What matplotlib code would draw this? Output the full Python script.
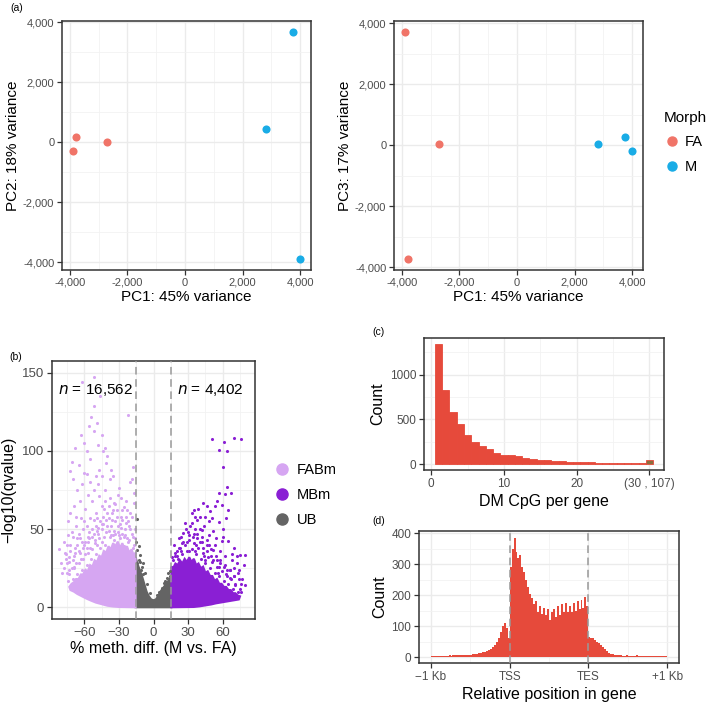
import numpy as np
import matplotlib
matplotlib.use("Agg")
import matplotlib.pyplot as plt
from matplotlib.lines import Line2D
from matplotlib.ticker import FixedLocator, FuncFormatter

plt.rcParams['font.family'] = ['Liberation Sans', 'DejaVu Sans']

# ---------------- data ----------------
# (a) PCA
pc1 = [-3880, -3790, -2710, 2800, 3750, 3985]
pc2 = [-310, 157, 13, 447, 3657, -3887]
pc3 = [3695, -3725, 23, 23, 253, -207]
morph = ['FA', 'FA', 'FA', 'M', 'M', 'M']
morph_levels = ['FA', 'M']
morph_colors = {'FA': '#F07468', 'M': '#19ACE6'}

# (b) volcano: dense cores (envelopes) + individually visible points
fab_core_x = [-15.5, -17, -19, -21, -23, -25, -27, -29, -31, -33, -35, -37, -39, -41, -43, -45, -47, -49, -51,
              -53, -55, -57, -59, -61, -63, -65, -67, -69, -71, -73,
              -72, -69, -66, -62, -58, -54, -50, -45, -40, -35, -30, -15.5]
fab_core_y = [35, 33, 37, 35, 39, 37, 41, 38, 42, 39, 41, 37, 39, 35, 36, 32, 33, 29, 30,
              26, 27, 23, 24, 21, 21, 18, 18, 16, 15, 13,
              11, 10, 8.5, 7, 5.5, 4.2, 3, 2, 1, 0.5, 0.2, 0]
mbm_core_x = [15.5, 17, 19, 21, 23, 25, 27, 29, 31, 33, 35, 37, 39, 41, 43, 45, 47, 49, 51, 53, 55, 57,
              59, 61, 63, 65, 67, 69, 71, 73, 75,
              74, 70, 66, 62, 58, 54, 50, 45, 40, 35, 15.5]
mbm_core_y = [26, 25, 28, 27, 30, 28, 31, 29, 32, 29, 31, 27, 28, 25, 26, 22, 23, 20, 20, 17, 18, 15,
              15, 13, 13, 11, 11, 9, 9, 7.5, 7,
              5, 4.5, 4, 3.5, 3, 2.5, 1.8, 1.2, 0.6, 0.2, 0]
ub_core_x = [-15.5, -14, -12, -10, -8, -6, -4, -2, 0, 2, 4, 6, 8, 10, 12, 14, 15.5, 15.5, -15.5]
ub_core_y = [32, 28, 24, 20, 15, 10, 7, 5, 4.5, 5, 7, 10, 12, 14, 16, 18, 20, 0, 0]

fab_x = [-52, -62, -46, -52, -22, -49, -56, -52, -45, -48, -42, -68, -58, -44, -40, -71, -65, -72, -60, -58,
         -50, -45, -35, -38, -55, -48, -20, -18, -70, -62, -66, -52, -42, -30, -17, -57, -47, -38, -64, -53,
         -34, -17, -69, -45, -59, -26, -72, -50, -40, -32, -63, -55, -74, -46, -67, -58, -36, -78, -82, -75,
         -70, -65, -77, -73, -68, -62, -19, -28, -22, -16, -18, -43, -49, -56, -61, -66, -72, -75, -78, -73,
         -70, -64, -59, -53, -45, -39, -33, -27, -24, -20, -37, -41, -55, -60, -63, -54, -47, -67, -50, -57,
         -76, -69, -80, -62, -67, -71, -79, -28, -31, -24,
         -17, -19, -21, -23, -25, -27, -29, -31, -33, -35, -37, -39, -41, -43, -45, -47, -49, -51, -53, -55,
         -57, -59, -61, -63, -65, -67, -69, -71, -73, -75,
         -18, -22, -26, -30, -34, -38, -42, -46, -50, -54, -58, -62, -66, -70, -74,
         -20, -24, -28, -32, -36, -40, -44, -48, -52, -56, -60, -64, -68, -72, -76,
         -16, -19, -23, -27, -35, -42, -52, -60, -66, -74,
         -21, -25, -29, -33, -37, -41, -45, -49, -53, -57, -61, -65, -69, -73,
         -26, -31, -34, -39, -44, -48, -51, -58]
fab_y = [147, 144, 135, 129, 123, 118, 116, 113, 110, 104, 102, 102, 100, 100, 97, 93, 91, 87, 86, 85,
         84, 84, 84, 82, 80, 79, 80, 90, 82, 79, 75, 75, 75, 76, 73, 72, 71, 70, 68, 68,
         67, 67, 65, 65, 63, 64, 60, 60, 60, 62, 57, 57, 55, 55, 52, 52, 60, 42, 37, 40,
         45, 47, 35, 32, 38, 42, 82, 58, 55, 50, 45, 63, 57, 48, 50, 40, 36, 28, 25, 24,
         30, 35, 42, 50, 53, 65, 66, 62, 58, 60, 88, 92, 95, 105, 110, 122, 88, 58, 52, 45,
         31, 26, 28, 20, 18, 48, 22, 70, 72, 68,
         40, 47, 52, 44, 50, 47, 53, 48, 55, 46, 52, 49, 56, 45, 50, 44, 49, 41, 45, 38,
         42, 34, 38, 31, 36, 28, 33, 25, 29, 22,
         38, 42, 45, 46, 43, 45, 40, 38, 34, 31, 27, 24, 21, 18, 17,
         50, 54, 51, 58, 56, 52, 58, 51, 47, 44, 40, 44, 35, 40, 34,
         44, 58, 62, 56, 62, 68, 56, 55, 44, 46,
         43, 46, 44, 47, 46, 48, 42, 40, 37, 35, 31, 28, 25, 21,
         39, 52, 49, 57, 53, 47, 43, 38]

mbm_x = [50.5, 61.3, 69.4, 75.7, 56.4, 63.6, 60.1, 63.6, 56.4, 62.2, 67.6, 53.5, 46.3, 59.3, 40.5, 34.7, 49.1,
         56.4, 41.9, 52, 26, 33.2, 37.6, 46.3, 59.3, 65, 75.1, 79.5, 78.6, 72.3, 66.5, 75.7, 69.4, 57.8, 52,
         44.8, 66.5, 24.6, 27.5, 18.8, 15.9, 30.4, 36, 38, 44, 48, 31, 29, 22, 35, 40, 43, 48, 54, 58, 62, 68,
         70, 73, 61, 55, 50, 46, 42, 36, 33, 39, 45, 51, 43, 37, 24, 20, 56, 64, 71, 74, 60, 63, 65, 55, 70,
         17, 19, 21, 23, 25, 27, 29, 31, 33, 35, 37, 39, 41, 43, 45, 47, 49, 51, 53, 55, 57, 59, 61, 63, 65,
         67, 69, 71, 73, 75,
         18, 22, 26, 30, 34, 38, 42, 46, 50, 54, 58, 62, 66, 70, 74, 77, 79, 76,
         28, 32, 40, 48, 53, 60, 68, 72, 20, 24, 36, 44, 52, 57, 64]
mbm_y = [107.5, 105.7, 108.3, 107.4, 100.6, 99.8, 90, 76.6, 73, 72.3, 73, 64.5, 64.5, 65.5, 58, 62.3, 61.3,
         54.3, 49.6, 48.5, 47.4, 53.8, 44.3, 43.2, 42.1, 42.1, 33.2, 33.2, 27, 28.3, 24, 15, 19.8, 28.3, 36.8,
         30.4, 18.7, 41, 53.8, 32.5, 32, 35.7, 50, 56, 52, 55, 46, 42, 38, 47, 42, 38, 40, 44, 36, 33, 30,
         25, 22, 26, 30, 33, 36, 45, 58, 60, 63, 58, 57, 67, 40, 45, 36, 22, 20, 14, 18, 50, 57, 62, 68, 38,
         30, 35, 31, 38, 34, 40, 36, 43, 37, 41, 34, 38, 31, 35, 28, 32, 25, 29, 22, 26, 20, 23, 17, 21, 15,
         18, 12, 15, 10, 12,
         40, 44, 42, 48, 45, 47, 42, 40, 37, 33, 30, 27, 24, 20, 24, 18, 14, 10,
         50, 52, 50, 46, 40, 45, 34, 33, 33, 36, 36, 33, 30, 26, 24]

ub_x = [-14.5, -14.5, -13, -10, -7.2, -14.5, -8.7, 8.7, 11.6, 14.5, 7.2, -13, -12.1, -11, -6, 5, 13, -3, 3,
        -15, -12, -9, 10, 14]
ub_y = [56.4, 36.8, 30.4, 26, 22, 28, 28.3, 15.5, 18.7, 19.8, 12.3, 39, 33.6, 24, 15, 10, 22, 9, 8,
        42, 29, 21, 17, 23]

meth_cut = 15
n_fab = "16,562"
n_mbm = "4,402"
vol_colors = {'FABm': '#D6A6F2', 'MBm': '#8A1FD4', 'UB': '#646464'}

# (c) DM CpG per gene (last bin = 30..107 overflow)
cpg_bins = list(range(1, 31))
cpg_counts = [1344, 826, 585, 444, 322, 241, 204, 167, 122, 96, 96, 93, 70, 56, 41, 44, 33, 33, 26, 22,
              19, 19, 15, 12, 15, 15, 11, 7, 7, 41]
cpg_ticks = [0, 10, 20, 30]
cpg_ticklabels = ['0', '10', '20', '(30 , 107)']

# (d) relative position in gene (-1 Kb .. TSS .. TES .. +1 Kb), 120 bins
pos_counts = [2, 3, 2, 3, 3, 4, 3, 4, 4, 5, 4, 5, 5, 6, 5, 6, 7, 6, 7, 8,
              8, 9, 10, 11, 12, 14, 15, 17, 20, 23,
              27, 32, 40, 50, 62, 80, 100, 110, 95, 60,
              290, 350, 385, 340, 320, 330, 290, 275, 250, 225, 205, 190, 170, 180, 145, 165, 140, 160, 135, 155,
              120, 145, 155, 130, 165, 135, 170, 145, 175, 145, 165, 145, 175, 150, 180, 155, 185, 160, 195, 165,
              65, 62, 60, 55, 50, 45, 38, 32, 25, 20, 14, 10, 9, 7, 6, 5,
              5, 4, 4, 5, 4, 3, 4, 3, 5, 4, 3, 3, 4, 3, 2, 3, 3, 2, 3, 2, 2, 3, 2, 2]
pos_ticks = [-1, 0, 1, 2]
pos_ticklabels = ['\u22121 Kb', 'TSS', 'TES', '+1 Kb']

hist_color = '#E64A3B'
overflow_color = '#8C6E3E'

# ---------------- style helpers ----------------
W, H = 709, 706
fig = plt.figure(figsize=(W / 100, H / 100), dpi=100)


def add_ax(x0, y0, x1, y1):
    return fig.add_axes([x0 / W, 1 - y1 / H, (x1 - x0) / W, (y1 - y0) / H])


def bw(ax, xmaj, xmin, ymaj, ymin, tsize=8):
    ax.set_facecolor('white')
    ax.xaxis.set_major_locator(FixedLocator(xmaj))
    ax.xaxis.set_minor_locator(FixedLocator(xmin))
    ax.yaxis.set_major_locator(FixedLocator(ymaj))
    ax.yaxis.set_minor_locator(FixedLocator(ymin))
    ax.grid(True, which='major', color='#EBEBEB', lw=1.0, zorder=0)
    ax.grid(True, which='minor', color='#F2F2F2', lw=0.6, zorder=0)
    ax.set_axisbelow(True)
    for s in ax.spines.values():
        s.set_color('#333333')
        s.set_linewidth(1.1)
    ax.tick_params(which='major', direction='out', length=3.5, width=0.9, color='#333333',
                   labelcolor='#4D4D4D', labelsize=tsize, pad=2)
    ax.tick_params(which='minor', length=0)


comma = FuncFormatter(lambda v, p: f"{int(v):,}")

# ---------------- (a) PCA ----------------
for (x0, x1), ydata, ylab in [((62, 311), pc2, 'PC2: 18% variance'), ((394, 643), pc3, 'PC3: 17% variance')]:
    ax = add_ax(x0, 21, x1, 270)
    for lev in morph_levels:
        xs = [a for a, m in zip(pc1, morph) if m == lev]
        ys = [b for b, m in zip(ydata, morph) if m == lev]
        ax.scatter(xs, ys, s=34, color=morph_colors[lev], zorder=3, linewidths=0)
    ax.margins(0.05)
    bw(ax, [-4000, -2000, 0, 2000, 4000], [-3000, -1000, 1000, 3000],
       [-4000, -2000, 0, 2000, 4000], [-3000, -1000, 1000, 3000], tsize=8)
    ax.xaxis.set_major_formatter(comma)
    ax.yaxis.set_major_formatter(comma)
    ax.set_xlabel('PC1: 45% variance', fontsize=11, labelpad=2)
    ax.set_ylabel(ylab, fontsize=11, labelpad=2)

handles = [Line2D([], [], marker='o', ls='', color=morph_colors[l], markersize=6.5) for l in morph_levels]
fig.legend(handles, morph_levels, title='Morph', loc='upper left', bbox_to_anchor=(656 / W, 1 - 104 / H),
           frameon=False, fontsize=10.5, title_fontsize=11, handletextpad=0.3, labelspacing=0.7,
           handlelength=1.2, alignment='left', borderpad=0)

# ---------------- (b) volcano ----------------
axb = add_ax(52, 361, 255, 619)
axb.fill(ub_core_x, ub_core_y, color=vol_colors['UB'], lw=1.5, zorder=2)
axb.fill(fab_core_x, fab_core_y, color=vol_colors['FABm'], lw=1.5, zorder=2)
axb.fill(mbm_core_x, mbm_core_y, color=vol_colors['MBm'], lw=1.5, zorder=2)
axb.scatter(fab_x, fab_y, s=5, color=vol_colors['FABm'], linewidths=0, zorder=3)
axb.scatter(mbm_x, mbm_y, s=5, color=vol_colors['MBm'], linewidths=0, zorder=3)
axb.scatter(ub_x, ub_y, s=5, color=vol_colors['UB'], linewidths=0, zorder=3)
for c in (-meth_cut, meth_cut):
    axb.axvline(c, color='#999999', lw=1.1, ls=(0, (5, 3)), zorder=4)
axb.set_xlim(-88, 88)
axb.set_ylim(-7.5, 157.5)
bw(axb, [-60, -30, 0, 30, 60], [-75, -45, -15, 15, 45, 75], [0, 50, 100, 150], [25, 75, 125], tsize=9.5)
axb.text(-50, 139, r'$n$ = ' + n_fab, fontsize=11, ha='center', va='center', zorder=5)
axb.text(49, 139, r'$n$ = ' + n_mbm, fontsize=11, ha='center', va='center', zorder=5)
axb.set_xlabel('% meth. diff. (M vs. FA)', fontsize=11.5, labelpad=2)
axb.set_ylabel('\u2212log10(qvalue)', fontsize=11.5, labelpad=4)
vh = [Line2D([], [], marker='o', ls='', color=vol_colors[k], markersize=8) for k in ['FABm', 'MBm', 'UB']]
fig.legend(vh, ['FABm', 'MBm', 'UB'], loc='upper left', bbox_to_anchor=(266 / W, 1 - 456 / H), frameon=False,
           fontsize=10.5, handletextpad=0.4, labelspacing=0.75, handlelength=1.2, borderpad=0)

# ---------------- (c) histogram ----------------
axc = add_ax(424, 338, 664, 470)
bars = axc.bar(cpg_bins, cpg_counts, width=1, color=hist_color, edgecolor=hist_color, lw=0.6, zorder=3)
bars[-1].set_facecolor(overflow_color)
axc.set_xlim(-1, 32)
axc.set_ylim(-67, 1411)
bw(axc, cpg_ticks, [5, 15, 25], [0, 500, 1000], [250, 750, 1250], tsize=8.5)
axc.set_xticklabels(cpg_ticklabels)
axc.set_xlabel('DM CpG per gene', fontsize=11.5, labelpad=3)
axc.set_ylabel('Count', fontsize=11.5, labelpad=3)

# ---------------- (d) histogram ----------------
axd = add_ax(419, 531, 679, 663)
edges = np.linspace(pos_ticks[0], pos_ticks[-1], len(pos_counts) + 1)
axd.stairs(pos_counts, edges, fill=True, color=hist_color, zorder=3)
for c in (0, 1):
    axd.axvline(c, color='#999999', lw=1.1, ls=(0, (5, 3)), zorder=4)
axd.set_xlim(-1.15, 2.15)
axd.set_ylim(-19.4, 407.4)
bw(axd, pos_ticks, [-0.5, 0.5, 1.5], [0, 100, 200, 300, 400], [50, 150, 250, 350], tsize=8.5)
axd.set_xticklabels(pos_ticklabels)
axd.set_xlabel('Relative position in gene', fontsize=11.5, labelpad=3)
axd.set_ylabel('Count', fontsize=11.5, labelpad=3)

# panel tags
for tag, (x, y) in {'(a)': (10, 8), '(b)': (9, 357), '(c)': (372, 332), '(d)': (372, 521)}.items():
    fig.text(x / W, 1 - y / H, tag, fontsize=7.5, ha='left', va='center')

fig.savefig('out.png', dpi=100)
